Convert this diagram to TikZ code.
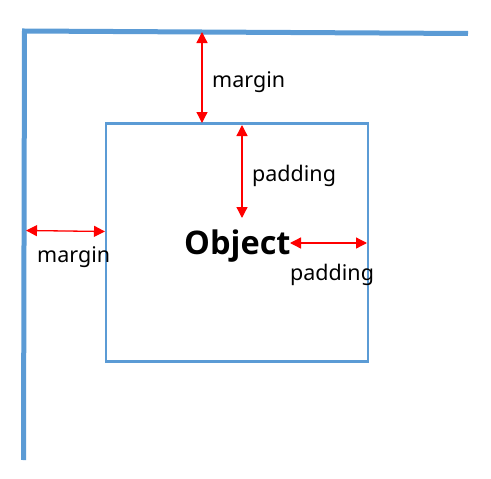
\documentclass[tikz,border=0pt]{standalone}
\usepackage{fontspec}
\setmainfont{Noto Sans}
\newfontfamily\objfont{Open Sans}
\usetikzlibrary{arrows.meta}
\definecolor{boxblue}{HTML}{5B9BD5}
\tikzset{
  wall/.style={draw=boxblue, line width=5pt, line cap=butt, line join=miter},
  objbox/.style={draw=boxblue, line width=2.2pt, inner sep=0pt, outer sep=0pt, minimum width=262pt, minimum height=238pt},
  dim/.style={draw=red, line width=1.3pt, {Triangle[length=11pt,width=11pt]}-{Triangle[length=11pt,width=11pt]}, fill=red},
  lbl/.style={anchor=base west, inner sep=0pt, font=\fontsize{21.5}{26}\selectfont},
  objlbl/.style={anchor=base west, inner sep=0pt, font=\objfont\fontsize{32.5}{38}\selectfont\bfseries}
}
\begin{document}
\begin{tikzpicture}[x=1pt,y=-1pt]
\useasboundingbox (0,0) rectangle (491,479);
% outer wall
\coordinate (wallR) at (468,33.5);
\coordinate (wallC) at (24.5,31);
\coordinate (wallB) at (23.5,460);
\draw[wall] (wallR) -- (wallC) -- (wallB);
% object box
\node[objbox] (box) at (237,242.5) {};
% text
\node[objlbl] (obj) at (184,254.5) {Object};
\node[lbl] (m1) at (212,88) {margin};
\node[lbl] (p1) at (252,181) {padding};
\node[lbl] (m2) at (37,262.5) {margin};
\node[lbl] (p2) at (290,280) {padding};
% arrow end points
\coordinate (mt1) at (202,32);
\coordinate (mt2) at (202,123);
\coordinate (pt1) at (242,125);
\coordinate (pt2) at (242,218);
\coordinate (ml1) at (26,230.5);
\coordinate (ml2) at (105,231.5);
\coordinate (pr1) at (290,243);
\coordinate (pr2) at (367,243);
\draw[dim] (mt1) -- (mt2);
\draw[dim] (pt1) -- (pt2);
\draw[dim] (ml1) -- (ml2);
\draw[dim] (pr1) -- (pr2);
\end{tikzpicture}
\end{document}
